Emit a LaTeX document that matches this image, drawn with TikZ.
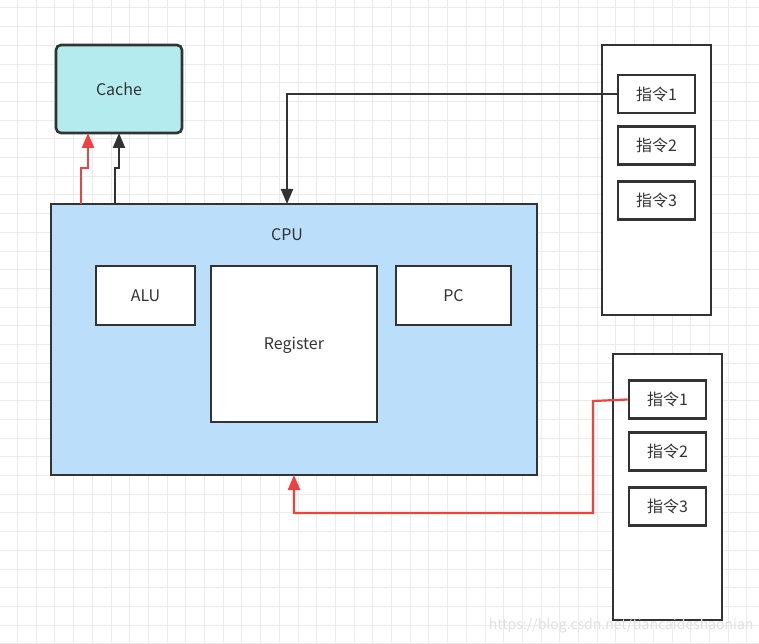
\documentclass[tikz,border=0pt]{standalone}
\usepackage{fontspec}
\setmainfont{Noto Sans CJK SC}
\usetikzlibrary{arrows.meta}
\definecolor{gridc}{HTML}{EBEBEB}
\definecolor{edge}{HTML}{333333}
\definecolor{cachefill}{HTML}{B3EBEF}
\definecolor{cpufill}{HTML}{BBDEFB}
\definecolor{redc}{HTML}{F04040}
\tikzset{
  box/.style={draw=edge, line width=2.6pt, fill=white, inner sep=0pt, text=edge},
  lbl/.style={font=\fontsize{16}{19}\selectfont, text=edge},
  blk/.style={draw=edge, line width=2.2pt, -{Triangle[length=15pt,width=12pt]}},
  red/.style={draw=redc, line width=2.2pt, -{Triangle[length=15pt,width=12pt]}},
}
\begin{document}
\begin{tikzpicture}[x=1pt,y=-1pt]
\fill[white] (0,0) rectangle (759,644);
\useasboundingbox (0,0) rectangle (759,644);
% grid
\foreach \i in {0,...,40} {\draw[gridc, line width=1pt] ({17.5+18.7*\i},0) -- ({17.5+18.7*\i},644);}
\foreach \j in {0,...,34} {\draw[gridc, line width=1pt] (0,{8+18.7*\j}) -- (759,{8+18.7*\j});}
% cache
\draw[box, fill=cachefill, rounded corners=5pt] (56,45) rectangle (182,133);
\node[lbl] (cache) at (119,89) {Cache};
\coordinate (cacheA) at (88,133);
\coordinate (cacheB) at (119,133);
% CPU
\draw[box, fill=cpufill] (51,204) rectangle (537,475);
\node[lbl] (cpu) at (287,235) {CPU};
\node[box, minimum width=99pt, minimum height=59pt, lbl] (alu) at (145.5,295.5) {ALU};
\draw[box] (211,266) rectangle (377,422);
\node[lbl] (reg) at (294,345) {Register};
\node[box, minimum width=115pt, minimum height=59pt, lbl] (pc) at (453.5,295.5) {PC};
\coordinate (cpuTopA) at (81,204);
\coordinate (cpuTopB) at (115,204);
\coordinate (cpuTop) at (287,204);
\coordinate (cpuBot) at (294,475);
% right columns
\draw[box] (602,45) rectangle (711,315);
\node[box, minimum width=77pt, minimum height=38pt, lbl] (i11) at (656.5,94) {指令1};
\node[box, minimum width=77pt, minimum height=38pt, lbl] (i12) at (656.5,145.5) {指令2};
\node[box, minimum width=77pt, minimum height=38pt, lbl] (i13) at (656.5,200.5) {指令3};
\draw[box] (613,354) rectangle (722,620);
\node[box, minimum width=77pt, minimum height=38pt, lbl] (i21) at (667.5,399.5) {指令1};
\node[box, minimum width=77pt, minimum height=38pt, lbl] (i22) at (667.5,451.5) {指令2};
\node[box, minimum width=77pt, minimum height=38pt, lbl] (i23) at (667.5,506.5) {指令3};
% connectors
\draw[red] (cpuTopA) -- (81,168) -- (88,168) -- (cacheA);
\draw[blk] (cpuTopB) -- (115,168) -- (119,168) -- (cacheB);
\draw[blk] (i11.west) -- (287,94) -- (cpuTop);
\draw[red] (i21.west) -- (593,401) -- (593,513) -- (294,513) -- (cpuBot);
% watermark
\node[font=\fontsize{14}{16}\selectfont, text=black!12, anchor=east] (wm) at (757,626) {https://blog.csdn.net/tiancaideshaonian};
\end{tikzpicture}
\end{document}
